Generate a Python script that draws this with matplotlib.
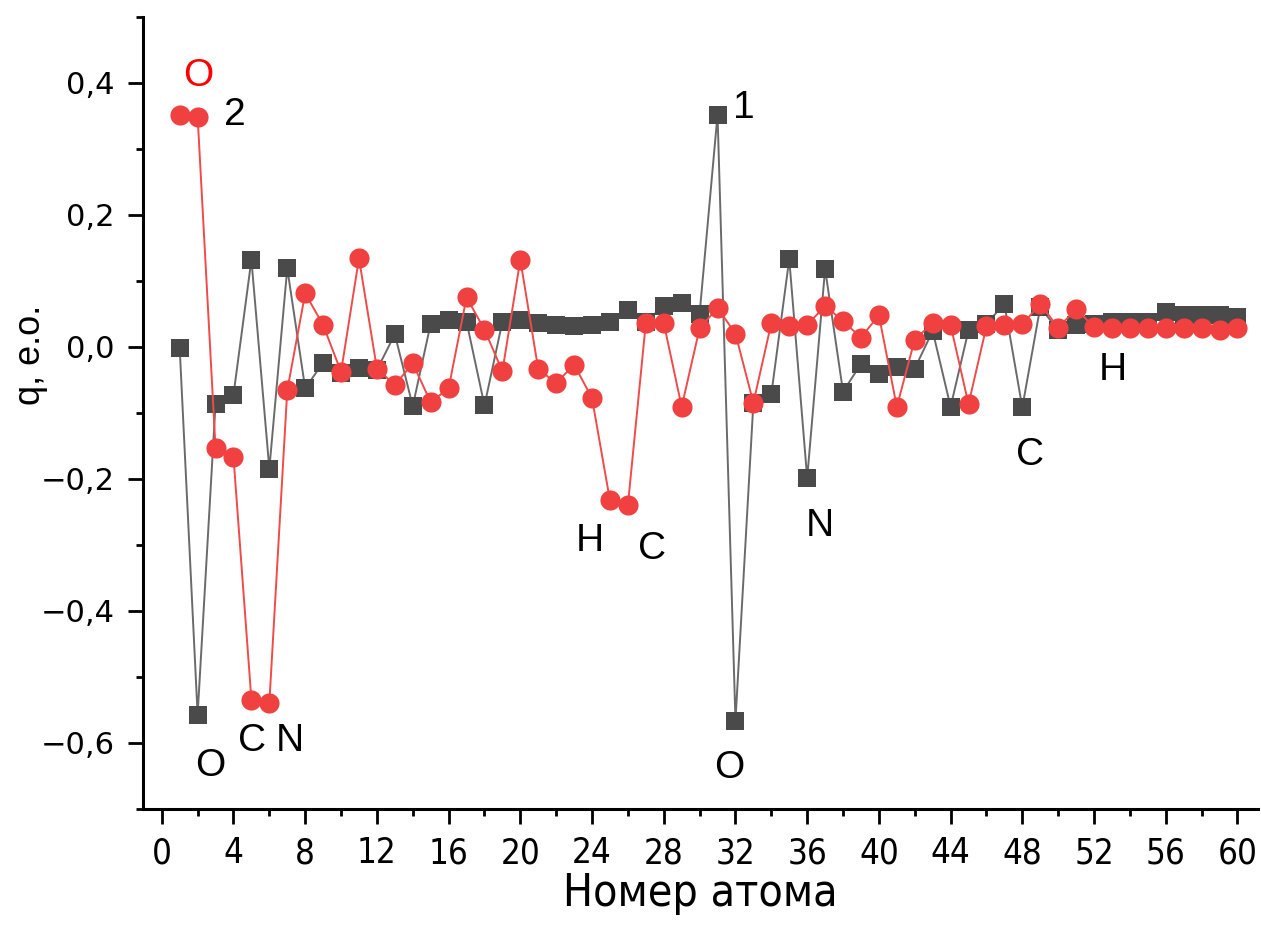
import matplotlib
matplotlib.use("Agg")
import matplotlib.pyplot as plt
from matplotlib.ticker import FixedLocator, FuncFormatter
from matplotlib import font_manager as fm

# Atom numbers and partial charges (e.o.) for the two structures
atom_number = list(range(1, 61))

charge_1 = [
    -0.002, -0.558, -0.086, -0.073, 0.132, -0.185, 0.119, -0.063, -0.024, -0.040,
    -0.032, -0.035, 0.019, -0.090, 0.035, 0.041, 0.038, -0.089, 0.038, 0.041,
    0.036, 0.033, 0.031, 0.033, 0.038, 0.056, 0.038, 0.062, 0.067, 0.050,
    0.352, -0.567, -0.085, -0.072, 0.133, -0.199, 0.118, -0.068, -0.026, -0.041,
    -0.030, -0.033, 0.024, -0.091, 0.025, 0.035, 0.065, -0.092, 0.060, 0.025,
    0.033, 0.035, 0.037, 0.037, 0.037, 0.052, 0.048, 0.048, 0.048, 0.045,
]

charge_2 = [
    0.352, 0.349, -0.154, -0.167, -0.535, -0.540, -0.066, 0.081, 0.033, -0.038,
    0.134, -0.033, -0.058, -0.025, -0.084, -0.063, 0.075, 0.026, -0.037, 0.132,
    -0.034, -0.055, -0.027, -0.078, -0.233, -0.240, 0.036, 0.036, -0.091, 0.028,
    0.059, 0.020, -0.085, 0.036, 0.031, 0.033, 0.062, 0.039, 0.014, 0.048,
    -0.091, 0.011, 0.036, 0.033, -0.087, 0.031, 0.033, 0.034, 0.065, 0.029,
    0.057, 0.030, 0.028, 0.028, 0.028, 0.029, 0.029, 0.028, 0.026, 0.028,
]

# Element / series labels: (text, x, y, colour)
annotations = [
    ("O", 2.04, 0.410, "#ff0000"),
    ("2", 4.09, 0.352, "black"),
    ("1", 32.44, 0.362, "black"),
    ("O", 2.69, -0.635, "black"),
    ("C", 5.02, -0.597, "black"),
    ("N", 7.15, -0.597, "black"),
    ("H", 23.9, -0.294, "black"),
    ("C", 27.33, -0.306, "black"),
    ("O", 31.66, -0.638, "black"),
    ("N", 36.71, -0.271, "black"),
    ("C", 48.43, -0.164, "black"),
    ("H", 53.04, -0.035, "black"),
]

x_major = list(range(0, 61, 4))
y_major = [-0.6, -0.4, -0.2, 0.0, 0.2, 0.4]

plt.rcParams["font.family"] = ["Liberation Sans", "DejaVu Sans"]

# narrow face for the x axis if one is installed
narrow = fm.FontProperties(family="DejaVu Sans", stretch="condensed")
try:
    path = fm.findfont(narrow, fallback_to_default=False)
    has_condensed = "Condensed" in path
except Exception:
    has_condensed = False

W, H = 1261, 931
fig = plt.figure(figsize=(W / 100, H / 100), dpi=100)
ax = fig.add_axes([143.3 / W, 1 - 808.5 / H, (1257.7 - 143.3) / W, (808.5 - 17.0) / H])

ax.plot(atom_number, charge_1, color="#6a6a6a", lw=1.4, marker="s", ms=13,
        mfc="#4a4a4a", mec="#4a4a4a", mew=0, zorder=2)
ax.plot(atom_number, charge_2, color="#f04a4a", lw=1.4, marker="o", ms=14.5,
        mfc="#f04040", mec="#f04040", mew=0, zorder=3)

for txt, x, y, c in annotations:
    ax.text(x, y, txt, color=c, fontsize=28, ha="center", va="center", zorder=4)

ax.set_xlim(-1.03, 61.13)
ax.set_ylim(-0.7, 0.5)

ax.xaxis.set_major_locator(FixedLocator(x_major))
ax.xaxis.set_minor_locator(FixedLocator(list(range(2, 61, 4))))
ax.yaxis.set_major_locator(FixedLocator(y_major))
ax.yaxis.set_minor_locator(FixedLocator([-0.7, -0.5, -0.3, -0.1, 0.1, 0.3, 0.5]))


def comma_fmt(v, pos):
    s = f"{v:.1f}".replace(".", ",")
    if s.startswith("-"):
        s = "\u2212" + s[1:]
    if s == "\u22120,0":
        s = "0,0"
    return s


ax.yaxis.set_major_formatter(FuncFormatter(comma_fmt))

for side in ("top", "right"):
    ax.spines[side].set_visible(False)
for side in ("left", "bottom"):
    ax.spines[side].set_linewidth(2.2)

ax.tick_params(axis="both", which="major", direction="out", length=10.5, width=2.0)
ax.tick_params(axis="both", which="minor", direction="out", length=5.2, width=2.0)
ax.tick_params(axis="y", which="major", labelsize=22, pad=10)
ax.tick_params(axis="x", which="major", pad=9.5)
for lbl in ax.get_yticklabels():
    lbl.set_fontfamily("DejaVu Sans")

if has_condensed:
    xfont = dict(family="DejaVu Sans", stretch="condensed")
    xt_size, xl_size = 25, 32
else:
    xfont = dict(family="Liberation Sans")
    xt_size, xl_size = 25, 31
for lbl in ax.get_xticklabels():
    lbl.set_fontproperties(fm.FontProperties(size=xt_size, **xfont))

fig.text(700 / W, 1 - 906 / H, "Номер атома",
         fontproperties=fm.FontProperties(size=xl_size, **xfont),
         ha="center", va="baseline")
fig.text(31 / W, 1 - 355 / H, "q, e.o.", rotation=90, fontsize=26,
         ha="center", va="center")

fig.savefig("out.png", dpi=100)
